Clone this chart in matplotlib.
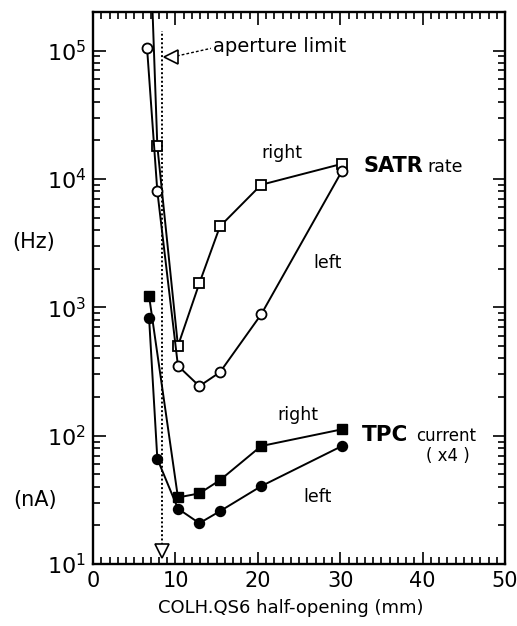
import numpy as np
import matplotlib
matplotlib.use('Agg')
import matplotlib.pyplot as plt
from matplotlib.ticker import MultipleLocator, LogLocator, FuncFormatter, NullFormatter

# the scan has wide letters, DejaVu Sans is closer than a Helvetica clone
plt.rcParams['font.family'] = ['DejaVu Sans']

# SATR rate (Hz), right side: open squares (first point is off scale)
satr_right_x = [7.0, 7.8, 10.3, 12.9, 15.4, 20.4, 30.2]
satr_right_y = [5e5, 18000, 500, 1540, 4270, 9000, 13100]
# SATR rate, left side: open circles
satr_left_x = [6.55, 7.8, 10.3, 12.9, 15.4, 20.4, 30.2]
satr_left_y = [105000, 8000, 350, 243, 312, 880, 11500]
# TPC current (nA, x4), right: filled squares
tpc_right_x = [6.8, 10.3, 12.9, 15.4, 20.4, 30.2]
tpc_right_y = [1220, 33, 35.5, 45, 83, 112]
# TPC current, left: filled circles
tpc_left_x = [6.8, 7.8, 10.3, 12.9, 15.4, 20.4, 30.2]
tpc_left_y = [820, 66, 27, 20.8, 25.8, 40.4, 83]

aperture = 8.4

fig = plt.figure(figsize=(5.17, 6.26), dpi=100)
ax = fig.add_axes([0.180, 0.099, 0.797, 0.882])

ax.plot(satr_right_x, satr_right_y, color='black', lw=1.4, marker='s', ms=6.8,
        mfc='white', mec='black', mew=1.3)
ax.plot(satr_left_x, satr_left_y, color='black', lw=1.4, marker='o', ms=7.2,
        mfc='white', mec='black', mew=1.3)
ax.plot(tpc_right_x, tpc_right_y, color='black', lw=1.4, marker='s', ms=6.8,
        mfc='black', mec='black')
ax.plot(tpc_left_x, tpc_left_y, color='black', lw=1.4, marker='o', ms=7.2,
        mfc='black', mec='black')

# aperture limit: dotted line with open triangles
ax.plot([aperture, aperture], [13, 1.43e5], color='black', lw=1.4, ls=(0, (1, 1.2)))
ax.plot([aperture], [12.6], marker='v', ms=10, mfc='white', mec='black', mew=1.2,
        clip_on=False)
ax.plot([9.6, 14.3], [8.9e4, 1.04e5], color='black', lw=1.0, ls=(0, (2, 1.5)))
ax.plot([9.4], [8.85e4], marker='<', ms=10, mfc='white', mec='black', mew=1.2)
ax.text(14.6, 1.08e5, 'aperture limit', fontsize=14, va='center', ha='left')

ax.text(22.9, 1.6e4, 'right', fontsize=12.5, ha='center', va='center')
ax.text(28.4, 2220, 'left', fontsize=12.5, ha='center', va='center')
t1 = ax.text(32.8, 1.27e4, 'SATR', fontsize=15, fontweight='bold', ha='left', va='center')
ax.annotate('rate', xy=(1, 0.5), xycoords=t1, xytext=(3, -1), textcoords='offset points',
            fontsize=12.5, ha='left', va='center')
ax.text(24.9, 144, 'right', fontsize=12.5, ha='center', va='center')
ax.text(27.2, 33, 'left', fontsize=12.5, ha='center', va='center')
t2 = ax.text(32.6, 101, 'TPC', fontsize=15.5, fontweight='bold', ha='left', va='center')
ax.annotate('current', xy=(1, 0.5), xycoords=t2, xytext=(6, -1), textcoords='offset points',
            fontsize=12, ha='left', va='center')
ax.text(43.0, 70, '( x4 )', fontsize=12, ha='center', va='center')

ax.set_yscale('log')
ax.set_xlim(0, 50)
ax.set_ylim(10, 2e5)

ax.xaxis.set_major_locator(MultipleLocator(10))
ax.xaxis.set_minor_locator(MultipleLocator(1))
ax.yaxis.set_major_locator(LogLocator(base=10, numticks=10))
ax.yaxis.set_minor_locator(LogLocator(base=10, subs=np.arange(2, 10), numticks=20))
ax.yaxis.set_minor_formatter(NullFormatter())
ax.yaxis.set_major_formatter(FuncFormatter(lambda v, p: '10$^{%d}$' % round(np.log10(v))))

ax.tick_params(which='both', direction='in', top=True, right=True, width=1.2)
ax.tick_params(which='major', length=9, labelsize=16)
ax.tick_params(which='minor', length=5)
ax.tick_params(axis='x', which='major', labelsize=15, pad=5)
ax.tick_params(axis='y', which='major', pad=5)
for s in ax.spines.values():
    s.set_linewidth(1.7)

fig.text(34 / 517, 1 - 242 / 626, '(Hz)', fontsize=15, ha='center', va='center')
fig.text(35 / 517, 1 - 500 / 626, '(nA)', fontsize=15, ha='center', va='center')
fig.text(291 / 517, 1 - 608 / 626, 'COLH.QS6 half-opening (mm)', fontsize=13,
         ha='center', va='center')

plt.savefig('out.png', dpi=100)
